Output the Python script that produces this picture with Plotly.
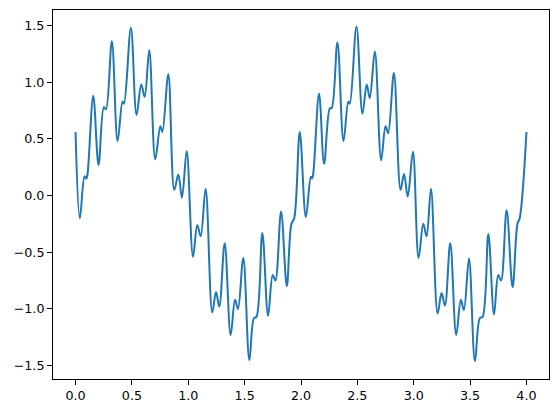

import plotly.graph_objects as go

BLUE = "#1f77b4"

# extrema and shoulders of the curve, first period (0 .. 2)
x_first = [0.0, 0.038, 0.08, 0.095, 0.105, 0.157, 0.204, 0.251, 0.27, 0.322,
           0.373, 0.417, 0.43, 0.491, 0.541, 0.583, 0.613, 0.654, 0.707, 0.752,
           0.77, 0.823, 0.876, 0.912, 0.944, 0.986, 1.042, 1.08, 1.11, 1.154,
           1.213, 1.246, 1.275, 1.323, 1.376, 1.415, 1.441, 1.488, 1.542, 1.583,
           1.605, 1.657, 1.708, 1.749, 1.773, 1.823, 1.874, 1.915, 1.94, 1.989]
y_first = [0.56, -0.20, 0.17, 0.15, 0.18, 0.88, 0.27, 0.78, 0.76, 1.36,
           0.48, 0.83, 0.81, 1.48, 0.71, 0.98, 0.87, 1.28, 0.32, 0.61,
           0.56, 1.07, 0.05, 0.185, -0.02, 0.39, -0.54, -0.26, -0.36, 0.06,
           -1.03, -0.85, -0.98, -0.42, -1.23, -0.92, -1.00, -0.55, -1.45, -1.08,
           -1.07, -0.33, -1.06, -0.70, -0.75, -0.14, -0.80, -0.25, -0.20, 0.56]

# second period (2 .. 4)
x_second = [2.043, 2.087, 2.097, 2.107, 2.16, 2.205, 2.256, 2.272, 2.323, 2.377,
            2.42, 2.433, 2.492, 2.545, 2.583, 2.61, 2.655, 2.711, 2.75, 2.773,
            2.824, 2.883, 2.914, 2.947, 2.993, 3.043, 3.085, 3.114, 3.153, 3.212,
            3.247, 3.277, 3.324, 3.377, 3.418, 3.445, 3.49, 3.543, 3.587, 3.611,
            3.662, 3.712, 3.75, 3.775, 3.824, 3.877, 3.92, 3.94, 4.0]
y_second = [-0.19, 0.165, 0.15, 0.18, 0.90, 0.28, 0.77, 0.77, 1.35, 0.48,
            0.83, 0.81, 1.49, 0.72, 0.98, 0.86, 1.27, 0.31, 0.61, 0.55,
            1.08, 0.05, 0.19, -0.01, 0.385, -0.55, -0.25, -0.36, 0.06, -1.04,
            -0.86, -0.97, -0.42, -1.23, -0.92, -1.01, -0.555, -1.46, -1.08, -1.07,
            -0.34, -1.05, -0.70, -0.75, -0.13, -0.81, -0.25, -0.20, 0.56]

x = x_first + x_second
y = y_first + y_second

fig = go.Figure(go.Scatter(x=x, y=y, mode="lines", line_shape="spline",
                           line=dict(color=BLUE, width=2, smoothing=1.0),
                           showlegend=False, hoverinfo="skip"))

axis_style = dict(showline=True, mirror=True, linecolor="black", linewidth=1,
                  showgrid=False, zeroline=False, ticks="outside", ticklen=5,
                  tickcolor="black", tickwidth=1, tickformat=".1f",
                  tickfont=dict(family="DejaVu Sans", size=12.7, color="black"))

fig.update_layout(
    width=559, height=413,
    margin=dict(l=53, r=10, t=10, b=34),
    plot_bgcolor="white", paper_bgcolor="white",
)
fig.update_xaxes(range=[-0.2, 4.2], tickvals=[0, 0.5, 1, 1.5, 2, 2.5, 3, 3.5, 4],
                 **axis_style)
fig.update_yaxes(range=[-1.618, 1.636], tickvals=[-1.5, -1, -0.5, 0, 0.5, 1, 1.5],
                 **axis_style)

fig.write_html("out.html", config={"displayModeBar": False},
               post_script="document.body.style.margin='0';")
